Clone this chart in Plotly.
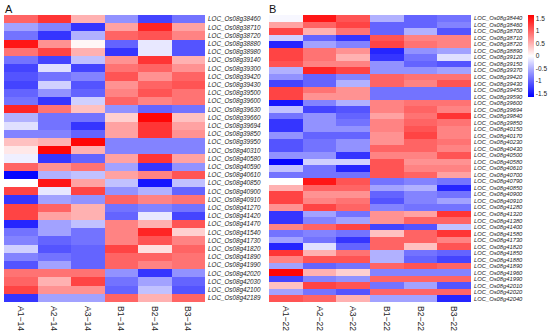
import plotly.graph_objects as go

samples_a = ["A1−14", "A2−14", "A3−14", "B1−14", "B2−14", "B3−14"]
samples_b = ["A1−22", "A2−22", "A3−22", "B1−22", "B2−22", "B3−22"]

genes_a = ["38460", "38710", "38720", "38880", "38980", "39140", "39300", "39420", "39430",
           "39500", "39600", "39630", "39660", "39694", "39850", "39950", "40310", "40580",
           "40590", "40610", "40850", "40900", "40910", "41270", "41420", "41470", "41540",
           "41730", "41820", "41890", "41990", "42020", "42030", "42100", "42189"]
genes_a = ["LOC_Os08g" + g for g in genes_a]

genes_b = ["38440", "38460", "38700", "38710", "38720", "38890", "39120", "39150", "39370",
           "39420", "39430", "39450", "39590", "39600", "39694", "39840", "39850", "40150",
           "40170", "40230", "40430", "40500", "40580", "40610", "40700", "40790", "40850",
           "40900", "40910", "41280", "41320", "41380", "41400", "41580", "41730", "41820",
           "41850", "41880", "41890", "41960", "41990", "42010", "42020", "42040"]
genes_b = ["LOC_Os08g" + g for g in genes_b]

values_a = [
    [1.0, 1.3, 0.5, -0.7, -1.2, -0.9],
    [-0.6, -0.8, -1.3, 0.6, 1.4, 0.6],
    [-0.9, -1.3, -0.5, 1.0, 1.1, 0.8],
    [1.5, 0.7, 0.05, -1.0, -0.15, -1.1],
    [0.9, 1.2, 0.5, -1.3, -0.15, -1.1],
    [-0.9, -1.2, -0.4, 0.7, 1.3, 0.5],
    [-1.2, -0.2, -1.2, 0.9, 1.0, 0.7],
    [-1.1, -0.9, -0.8, 1.1, 0.7, 1.0],
    [-1.2, -0.3, -1.1, 0.7, 1.0, 1.1],
    [-1.0, -0.7, -1.0, 0.8, 1.1, 0.9],
    [-0.9, -1.3, -0.3, 1.0, 0.8, 0.9],
    [1.4, 0.9, 0.4, -0.7, -1.0, -0.9],
    [-0.5, -0.9, -0.9, 0.3, 1.6, 0.4],
    [-0.2, -0.9, -1.3, 0.6, 1.3, 0.6],
    [-0.8, -0.8, -1.0, 0.6, 1.3, 0.7],
    [0.4, 0.5, 1.6, -0.8, -0.8, -0.8],
    [0.15, 1.6, 0.5, -0.8, -0.8, -0.8],
    [-0.1, -1.3, -1.0, 0.6, 1.3, 0.6],
    [1.0, 0.7, 0.9, -0.6, -1.3, -0.7],
    [-1.6, -0.5, -0.4, 0.6, 0.8, 1.1],
    [0.0, 1.5, 0.6, -0.4, -1.5, -0.4],
    [1.2, -0.15, 1.2, -0.7, -0.5, -1.0],
    [-1.3, -0.6, -0.7, 1.0, 0.8, 0.9],
    [1.2, 1.0, 0.5, -0.9, -0.8, -0.9],
    [1.2, 0.6, 0.5, -1.0, -0.15, -1.2],
    [-1.4, -0.6, -0.4, 0.8, 0.5, 1.1],
    [-0.9, -0.6, -0.9, 0.8, 1.4, 0.3],
    [-0.8, -1.0, -0.9, 0.8, 1.1, 0.8],
    [-0.3, -1.1, -1.0, 1.2, 0.2, 1.0],
    [-0.8, -0.9, -1.0, 1.0, 1.0, 0.9],
    [-1.1, -0.6, -1.0, 1.0, 0.8, 0.9],
    [0.9, 0.9, 0.9, -0.7, -1.3, -0.7],
    [1.0, 0.5, 1.2, -0.9, -0.6, -1.0],
    [1.2, 0.7, 0.7, -1.0, -0.4, -1.1],
    [-1.3, -0.6, -0.6, 1.0, 0.5, 1.0],
]

values_b = [
    [-0.05, 1.5, 1.1, -0.5, -1.0, -0.9],
    [0.6, 1.0, 1.2, -1.0, -1.0, -0.8],
    [1.2, 0.5, 0.9, -1.0, -0.5, -1.1],
    [-0.3, -1.0, -1.3, 1.1, 0.8, 0.8],
    [-1.4, -0.6, -0.8, 1.2, 0.9, 0.8],
    [1.2, 0.9, 0.7, -1.4, -0.7, -0.6],
    [1.2, 0.9, 0.5, -1.3, -0.9, -0.2],
    [1.1, 0.8, 0.8, -0.7, -1.0, -1.1],
    [-0.5, 1.4, 1.2, -0.7, -0.7, -0.6],
    [-0.7, -1.0, -0.8, 1.0, 0.9, 0.9],
    [-1.2, -1.0, -0.5, 1.0, 0.8, 1.1],
    [1.2, 0.9, 0.7, -0.9, -0.9, -0.9],
    [1.2, 0.7, 0.7, -0.9, -0.9, -0.9],
    [-1.5, -0.8, -0.5, 0.8, 0.9, 0.9],
    [-0.4, -1.2, -1.1, 0.8, 1.0, 0.8],
    [-0.9, -0.7, -1.0, 0.6, 0.9, 1.3],
    [-1.3, -0.7, -0.9, 0.8, 1.0, 0.9],
    [-1.3, -0.7, -0.7, 0.8, 1.1, 0.8],
    [-0.7, -1.0, -1.0, 0.7, 1.2, 0.8],
    [-1.1, -0.9, -0.7, 0.7, 1.0, 0.9],
    [-1.1, -0.9, -0.7, 1.0, 1.0, 0.8],
    [-0.7, -0.7, -1.3, 0.8, 0.8, 1.1],
    [-1.6, -0.3, -0.3, 1.1, 0.7, 0.7],
    [-0.4, -0.9, -1.4, 1.1, 0.8, 0.8],
    [-0.9, -0.9, -0.9, 1.1, 1.0, 0.6],
    [0.0, 1.5, 1.1, -0.9, -0.8, -0.9],
    [0.5, 1.0, 1.0, -0.6, -0.5, -1.4],
    [1.2, 0.7, 0.7, -1.0, -0.8, -0.9],
    [1.2, 0.8, 0.9, -1.1, -0.8, -0.6],
    [0.7, 1.2, 1.0, -0.8, -0.9, -0.9],
    [-1.3, -0.6, -0.9, 0.7, 0.6, 1.3],
    [-1.3, -0.8, -0.6, 0.7, 1.0, 1.0],
    [0.8, 1.0, 1.2, -1.2, -1.1, -0.4],
    [-0.9, -0.8, -0.9, 0.4, 1.0, 1.3],
    [-0.6, -0.9, -1.3, 1.0, 1.0, 0.8],
    [-1.4, -0.2, -1.0, 1.0, 0.4, 1.1],
    [1.3, 0.5, 0.9, -0.5, -0.9, -1.0],
    [0.8, 1.1, 1.1, -0.5, -1.0, -1.2],
    [-0.6, -1.0, -0.9, 1.0, 1.1, 1.0],
    [1.6, 0.5, 0.3, -0.8, -0.8, -0.8],
    [-1.2, -0.8, -0.7, 1.0, 1.0, 1.0],
    [0.4, 1.2, 1.1, -0.9, -0.6, -1.1],
    [-0.6, -0.9, -1.1, 1.0, 1.0, 1.0],
    [1.1, 1.0, 0.5, -0.6, -0.6, -1.4],
]

colorbar_ticks = [1.5, 1, 0.5, 0, -0.5, -1, -1.5]
colorbar_text = ["1.5", "1", "0.5", "0", "-0.5", "-1", "-1.5"]

W, H = 550, 332
FONT = "Liberation Sans, Arial, sans-serif"

fig = go.Figure()
fig.add_trace(go.Heatmap(z=values_a, x=samples_a, y=genes_a, coloraxis="coloraxis",
                         xaxis="x", yaxis="y", hoverongaps=False))
fig.add_trace(go.Heatmap(z=values_b, x=samples_b, y=genes_b, coloraxis="coloraxis",
                         xaxis="x2", yaxis="y2", hoverongaps=False))

ydom = [1 - 302 / H, 1 - 15 / H]
common_x = dict(tickangle=90, tickfont=dict(family=FONT, size=8.6, color="#222"),
                showgrid=False, zeroline=False, ticks="", showline=False,
                ticklabelstandoff=3, automargin=False)
common_y = dict(side="right", autorange="reversed", showgrid=False, zeroline=False,
                ticks="", showline=False, ticklabelstandoff=2, automargin=False,
                tickmode="array")

fig.update_layout(
    width=W, height=H,
    margin=dict(l=0, r=0, t=0, b=0, autoexpand=False),
    paper_bgcolor="white", plot_bgcolor="white",
    font=dict(family=FONT, color="#222"),
    showlegend=False,
    xaxis=dict(domain=[4 / W, 205 / W], anchor="y", **common_x),
    yaxis=dict(domain=ydom, anchor="x", tickvals=genes_a, ticktext=genes_a,
               tickfont=dict(family=FONT, size=6.3, style="italic", color="#222"),
               **common_y),
    xaxis2=dict(domain=[269 / W, 471 / W], anchor="y2", **common_x),
    yaxis2=dict(domain=ydom, anchor="x2", tickvals=genes_b, ticktext=genes_b,
                tickfont=dict(family=FONT, size=5.8, style="italic", color="#222"),
                **common_y),
    coloraxis=dict(
        cmin=-1.64, cmax=1.64,
        colorscale=[[0, "rgb(0,0,255)"], [0.5, "rgb(255,255,255)"], [1, "rgb(255,0,0)"]],
        colorbar=dict(x=527.5 / W, xanchor="left", y=1 - 15 / H, yanchor="top",
                      len=82 / H, lenmode="fraction", thickness=6,
                      xpad=0, ypad=0, outlinewidth=0,
                      tickvals=colorbar_ticks, ticktext=colorbar_text, ticks="",
                      tickfont=dict(family=FONT, size=6.5, color="#222")),
    ),
    annotations=[
        dict(text="A", x=3 / W, y=1 - 1 / H, xref="paper", yref="paper",
             xanchor="left", yanchor="top", showarrow=False,
             font=dict(family=FONT, size=11, color="#111")),
        dict(text="B", x=267 / W, y=1 - 1 / H, xref="paper", yref="paper",
             xanchor="left", yanchor="top", showarrow=False,
             font=dict(family=FONT, size=11, color="#111")),
    ],
)

fig.write_html("out.html",
               config={"displayModeBar": False},
               post_script="document.body.style.margin='0';document.body.style.overflow='hidden';")
